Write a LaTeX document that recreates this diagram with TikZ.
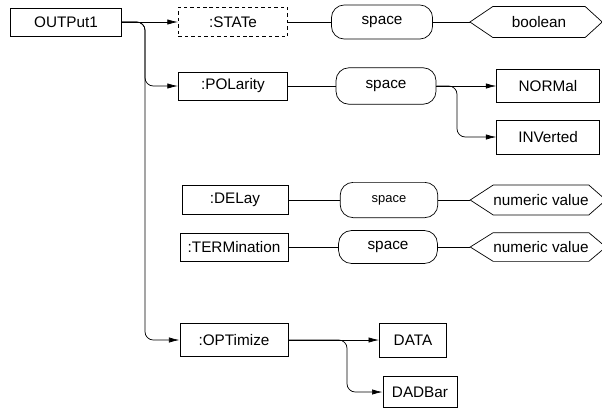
\documentclass[tikz,border=0pt]{standalone}
\usepackage{fontspec}
\setmainfont{Liberation Sans}
\usetikzlibrary{arrows.meta}
\newcommand\hexoutline[1]{%
  \draw[line width=0.6pt] (#1.north west) -- (#1.north east)
      -- ([xshift=14.5pt]#1.east) -- (#1.south east)
      -- (#1.south west) -- ([xshift=-19.5pt]#1.west) -- cycle;}
\begin{document}
\begin{tikzpicture}[x=0.85pt,y=-0.85pt,
  every node/.style={font=\fontsize{13}{15}\selectfont, inner sep=0pt},
  ln/.style={line width=0.6pt},
  box/.style={draw, rectangle, line width=0.6pt},
  dbox/.style={box, dashed, dash pattern=on 3pt off 2.5pt},
  spc/.style={draw, rectangle, rounded corners=11pt, line width=0.6pt},
  hexa/.style={rectangle},
  arr/.style={ln, -{Latex[length=9pt,width=4.5pt]}},
  conn/.style={ln}
]
\useasboundingbox (0,0) rectangle (602,408);

% left column
\node[box, minimum width=94pt, minimum height=24pt] (out) at (66,22) {OUTPut1};
\node[dbox, minimum width=93pt, minimum height=25pt] (stat) at (233,22) {:STATe};
\node[box, minimum width=93pt, minimum height=24pt] (pol) at (233,86) {:POLarity};
\node[box, minimum width=90pt, minimum height=25pt] (del) at (235,200) {:DELay};
\node[box, minimum width=92pt, minimum height=24pt] (term) at (234,247) {:TERMination};
\node[box, minimum width=92pt, minimum height=28pt] (opt) at (234,340) {:OPTimize};

% space nodes
\node[spc, minimum width=86pt, minimum height=29pt] (sp1) at (382,22) {space};
\node[spc, minimum width=85pt, minimum height=31pt] (sp2) at (386,86) {space};
\node[spc, minimum width=83pt, minimum height=30pt, font=\fontsize{11}{13}\selectfont] (sp3) at (389,200) {space};
\node[spc, minimum width=84pt, minimum height=28pt] (sp4) at (388,247) {space};

% value nodes
\node[hexa, minimum width=78pt, minimum height=26pt] (bool) at (539,22) {boolean};
\hexoutline{bool}
\node[hexa, minimum width=74pt, minimum height=25pt] (num1) at (541,200) {numeric value};
\hexoutline{num1}
\node[hexa, minimum width=74pt, minimum height=24pt] (num2) at (541,247) {numeric value};
\hexoutline{num2}
\node[box, minimum width=87pt, minimum height=28pt] (norm) at (548,86) {NORMal};
\node[box, minimum width=87pt, minimum height=29pt] (inv) at (548,137) {INVerted};
\node[box, minimum width=57pt, minimum height=29pt] (data) at (413,340) {DATA};
\node[box, minimum width=63pt, minimum height=26pt] (dad) at (420,392) {DADBar};

% connectors from OUTPut1
\draw[arr] (out.east) -- (stat.west);
\draw[arr, rounded corners=7pt] (out.east) -| (145,60) |- (pol.west);
\draw[arr, rounded corners=7pt] (out.east) -| (145,200) |- (opt.west);

% rows
\draw[conn] (stat.east) -- (sp1.west);
\draw[conn] (sp1.east) -- ([xshift=-19.5pt]bool.west);
\draw[conn] (pol.east) -- (sp2.west);
\draw[arr] (sp2.east) -- (norm.west);
\draw[arr, rounded corners=7pt] (sp2.east) -| (457,110) |- (inv.west);
\draw[conn] (del.east) -- (sp3.west);
\draw[conn] (sp3.east) -- ([xshift=-19.5pt]num1.west);
\draw[conn] (term.east) -- (sp4.west);
\draw[conn] (sp4.east) -- ([xshift=-19.5pt]num2.west);
\draw[arr] (opt.east) -- (data.west);
\draw[arr, rounded corners=7pt] (opt.east) -| (347,370) |- (dad.west);
\end{tikzpicture}
\end{document}
